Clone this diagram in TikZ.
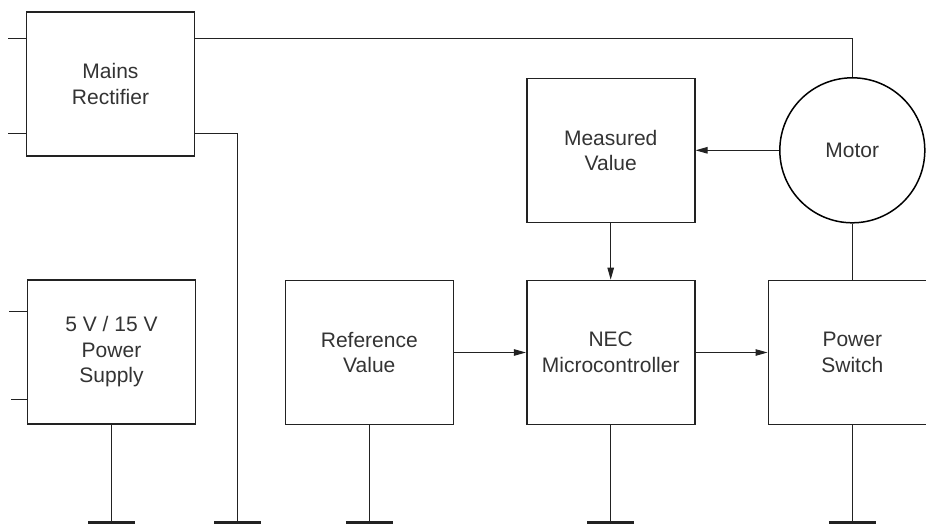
\documentclass[tikz,border=0pt]{standalone}
\usepackage{fontspec}
\setmainfont{Liberation Sans}
\usetikzlibrary{arrows.meta}
\definecolor{ink}{HTML}{222222}
\definecolor{txt}{HTML}{333333}
\begin{document}
\begin{tikzpicture}[x=1pt,y=-1pt,
  blockbox/.style={draw=ink, line width=1.6pt, rectangle, minimum width=168pt, minimum height=144pt,
    align=center, text=txt, inner sep=0pt, font=\fontsize{21}{25.5}\selectfont},
  motorc/.style={draw=black, line width=1.5pt, circle, minimum size=145pt, inner sep=0pt,
    text=txt, font=\fontsize{21}{25.5}\selectfont},
  wire/.style={draw=ink, line width=1pt},
  arr/.style={wire, -{Triangle[length=12pt,width=6.5pt]}},
  gndbar/.style={draw=ink, line width=3pt}
]
\useasboundingbox (0,0) rectangle (926,525);
\clip (0,0) rectangle (926,525);

% blocks
\node[blockbox] (mains) at (110.5,84) {Mains\\Rectifier};
\node[blockbox] (psu) at (111.5,352) {5 V / 15 V\\Power\\Supply};
\node[blockbox] (ref) at (369.3,352.5) {Reference\\Value};
\node[blockbox] (nec) at (610.7,352.5) {NEC\\Microcontroller};
\node[blockbox] (psw) at (852.3,352.5) {Power\\Switch};
\node[blockbox] (meas) at (610.7,150.3) {Measured\\Value};
\node[motorc] (motor) at (852.3,150.3) {Motor};

% free ends
\coordinate (in1) at (8,38.5);
\coordinate (in2) at (8,133.3);
\coordinate (in3) at (9.3,311.7);
\coordinate (in4) at (11,399.7);
\coordinate (bus) at (237.7,133.3);
\coordinate (g1) at (111.5,522.7);
\coordinate (g2) at (237.7,522.7);
\coordinate (g3) at (369.3,522.7);
\coordinate (g4) at (610.7,522.7);
\coordinate (g5) at (852.3,522.7);

% input stubs
\draw[wire] (in1) -- (in1 -| mains.west);
\draw[wire] (in2) -- (in2 -| mains.west);
\draw[wire] (in3) -- (in3 -| psu.west);
\draw[wire] (in4) -- (in4 -| psu.west);

% mains to motor
\draw[wire] (in1 -| mains.east) -- (in1 -| motor.north) -- (motor.north);
% mains lower output to ground
\draw[wire] (in2 -| mains.east) -- (bus) -- (g2);

% signal arrows
\draw[arr] (ref.east) -- (nec.west);
\draw[arr] (nec.east) -- (psw.west);
\draw[arr] (meas.south) -- (nec.north);
\draw[arr] (motor.west) -- (meas.east);
\draw[wire] (motor.south) -- (psw.north);

% grounds
\draw[wire] (psu.south) -- (g1);
\draw[wire] (ref.south) -- (g3);
\draw[wire] (nec.south) -- (g4);
\draw[wire] (psw.south) -- (g5);
\foreach \g in {g1,g2,g3,g4,g5}{
  \draw[gndbar] (\g) ++(-23.5,0) -- ++(47,0);
}
\end{tikzpicture}
\end{document}
